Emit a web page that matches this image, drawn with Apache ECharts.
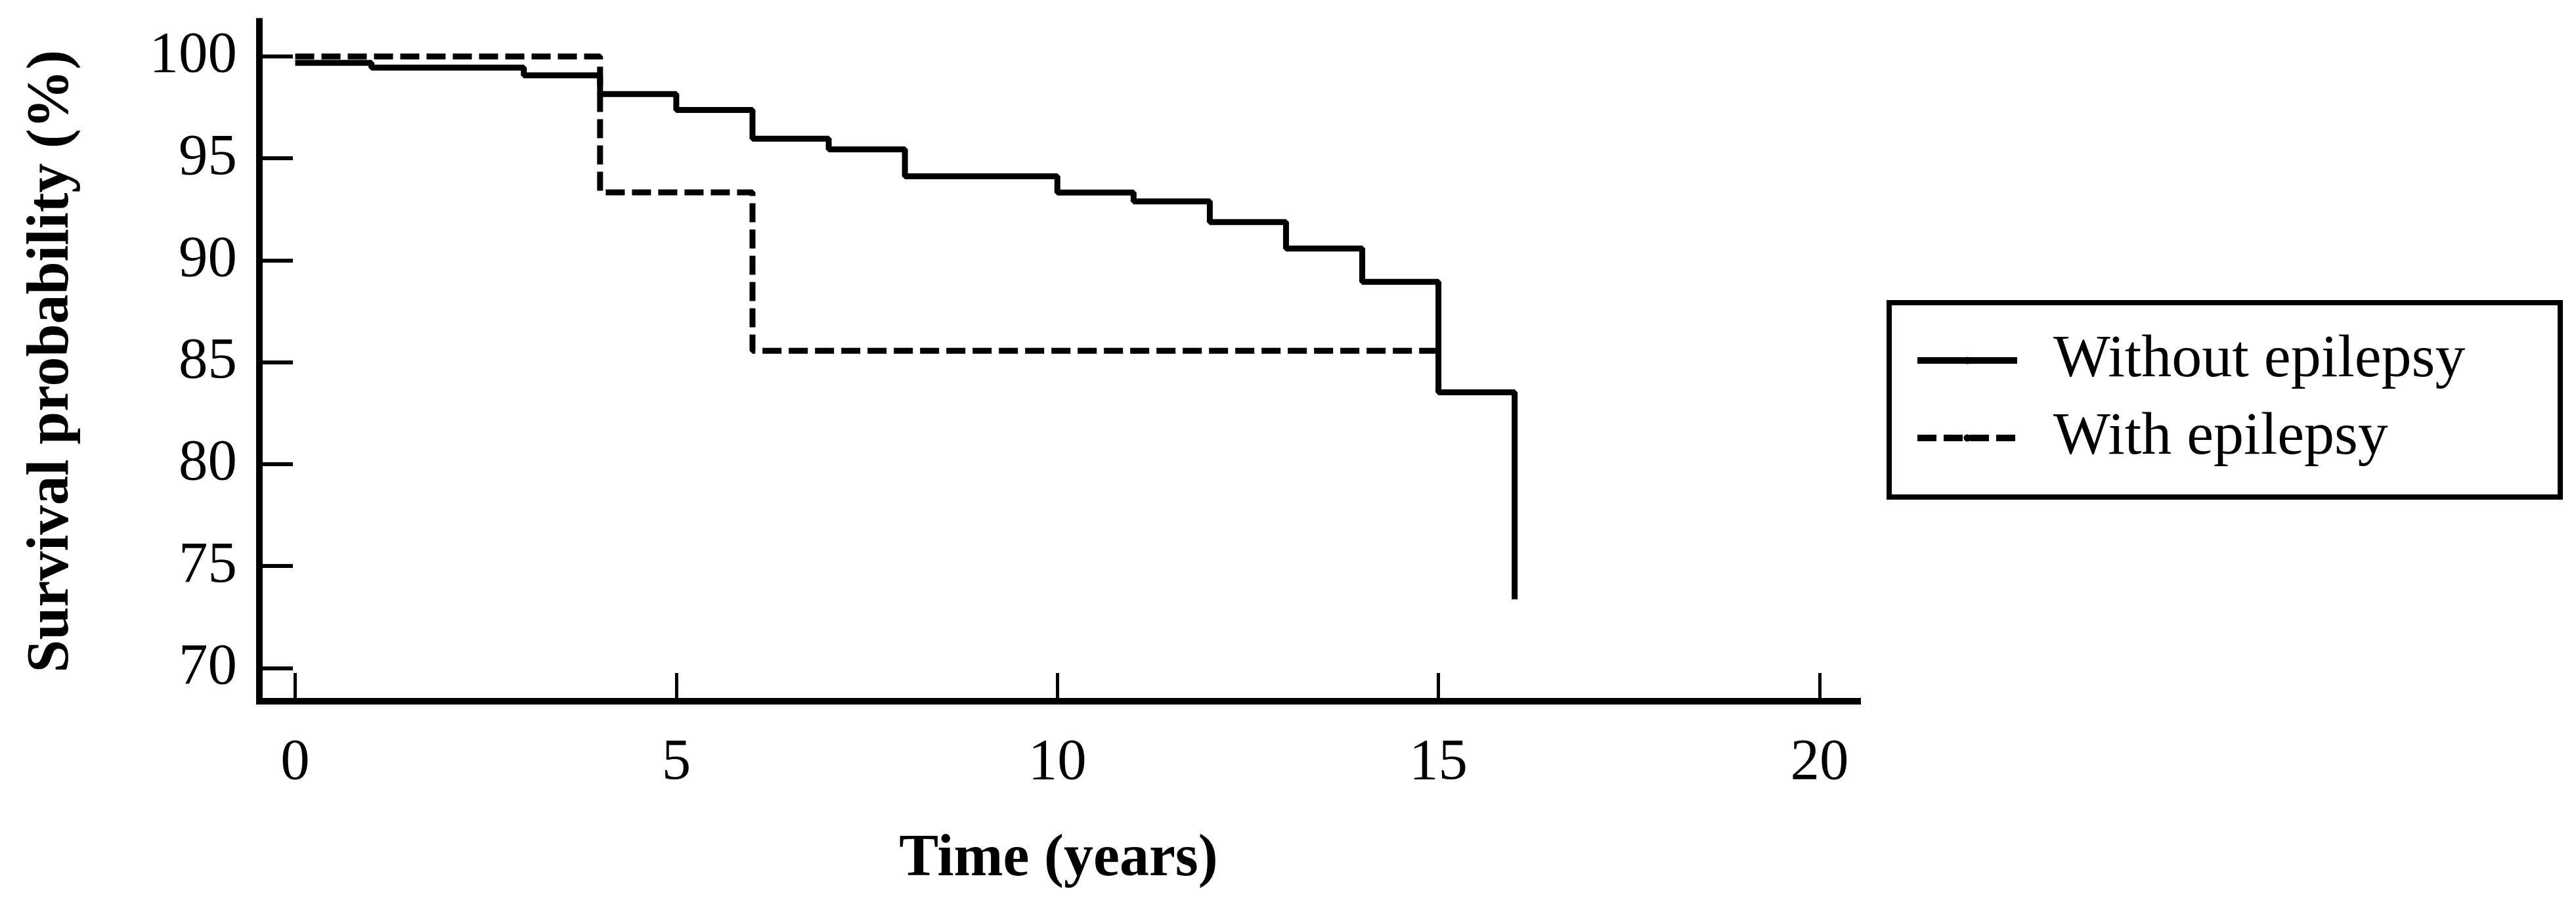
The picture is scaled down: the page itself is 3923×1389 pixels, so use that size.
<!DOCTYPE html>
<html><head><meta charset="utf-8">
<script src="https://cdn.jsdelivr.net/npm/echarts@6/dist/echarts.min.js"></script>
<style>html,body{margin:0;padding:0;background:#fff}#c{width:3923px;height:1389px}</style>
</head><body><div id="c"></div>
<script>
// ---- data ----
const seriesNames = ['Without epilepsy', 'With epilepsy'];
const timeWithout = [0, 1, 3, 4, 5, 6, 7, 8, 10, 11, 12, 13, 14, 15, 16];
const survWithout = [99.68, 99.45, 99.07, 98.15, 97.37, 95.96, 95.44, 94.12, 93.32, 92.89, 91.87, 90.58, 88.94, 83.52, 73.37];
const timeWith = [0, 4, 6, 15];
const survWith = [100, 93.33, 85.56, 85.56];
const xTicks = [0, 5, 10, 15, 20];
const yTicks = [70, 75, 80, 85, 90, 95, 100];
const xTitle = 'Time (years)';
const yTitle = 'Survival probability (%)';

const FONT = 'Liberation Serif';
const pairs = (xs, ys) => xs.map((x, i) => [x, ys[i]]);

const chart = echarts.init(document.getElementById('c'), null, {renderer: 'canvas'});
chart.setOption({
  backgroundColor: '#ffffff',
  animation: false,
  grid: {left: 395, top: 32.5, width: 2434, height: 1035.5, containLabel: false},
  xAxis: {
    type: 'value', min: -0.47, max: 20.5,
    name: xTitle, nameLocation: 'middle', nameGap: 197,
    nameTextStyle: {fontFamily: FONT, fontWeight: 'bold', fontSize: 90, color: '#000'},
    axisLine: {show: true, onZero: false, lineStyle: {color: '#000', width: 10, cap: 'square'}},
    axisTick: {show: true, inside: true, length: 43, customValues: xTicks, lineStyle: {color: '#000', width: 5}},
    axisLabel: {show: true, margin: 50, customValues: xTicks, fontFamily: FONT, fontSize: 89, color: '#000'},
    splitLine: {show: false}
  },
  yAxis: {
    type: 'value', min: 68.37, max: 101.72,
    name: yTitle, nameLocation: 'middle', nameGap: 270, nameRotate: 90,
    nameTextStyle: {fontFamily: FONT, fontWeight: 'bold', fontSize: 90, color: '#000'},
    axisLine: {show: true, onZero: false, lineStyle: {color: '#000', width: 10, cap: 'square'}},
    axisTick: {show: true, inside: true, length: 51, customValues: yTicks, lineStyle: {color: '#000', width: 6}},
    axisLabel: {show: true, margin: 34, customValues: yTicks, fontFamily: FONT, fontSize: 89, color: '#000'},
    splitLine: {show: false}
  },
  legend: {
    orient: 'vertical', left: 2915, top: 503, padding: 0,
    itemWidth: 152, itemHeight: 14, itemGap: 26,
    data: [
      {name: seriesNames[0], lineStyle: {width: 10}},
      {name: seriesNames[1], lineStyle: {width: 10}}
    ],
    textStyle: {fontFamily: FONT, fontSize: 92, color: '#000', lineHeight: 92, padding: [0, 0, 0, 50]}
  },
  graphic: [{
    type: 'rect', z: 10, silent: true,
    shape: {x: 2877, y: 461, width: 1022, height: 296},
    style: {fill: 'none', stroke: '#000', lineWidth: 8}
  }],
  series: [
    {
      name: seriesNames[0], type: 'line', step: 'end', symbol: 'none',
      data: pairs(timeWithout, survWithout),
      lineStyle: {color: '#000', width: 9, type: 'solid'},
      itemStyle: {color: '#000'}, z: 2
    },
    {
      name: seriesNames[1], type: 'line', step: 'end', symbol: 'none',
      data: pairs(timeWith, survWith),
      lineStyle: {color: '#000', width: 9, type: [29, 11]},
      itemStyle: {color: '#000'}, z: 3
    }
  ]
});
</script></body></html>
